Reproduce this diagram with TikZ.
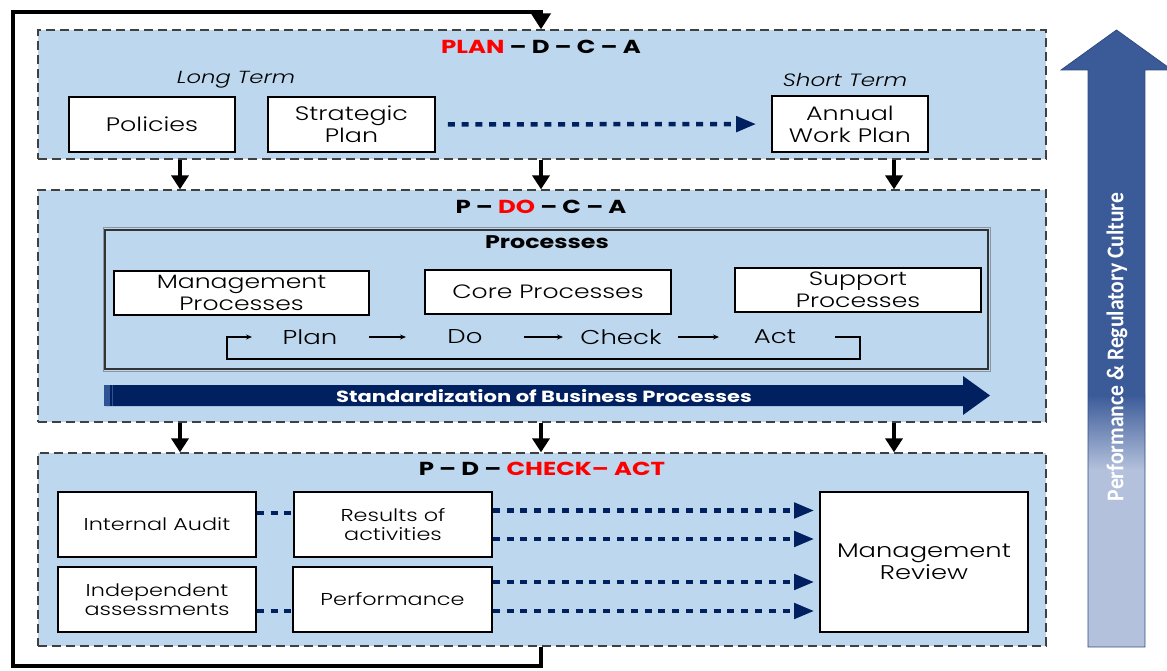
\documentclass[tikz,border=0pt]{standalone}
\usepackage{fontspec}
\setmainfont{Poppins}[FakeStretch=1.3,UprightFont={* Light},ItalicFont={* Light Italic},BoldFont={* Bold}]
\newfontfamily\calfont{Carlito}[FakeStretch=0.9]
\usetikzlibrary{arrows.meta,calc}
\definecolor{bfill}{HTML}{BDD7EE}
\definecolor{dashc}{HTML}{404040}
\definecolor{navy}{HTML}{002060}
\definecolor{perfdark}{HTML}{3A5A98}
\definecolor{perflight}{HTML}{B4C1DC}
\definecolor{perfline}{HTML}{2F4A7E}
\definecolor{stdlight}{HTML}{2E5496}
\definecolor{procgray}{HTML}{8A94A3}
\begin{document}
\begin{tikzpicture}[x=1pt,y=-1pt,
  phase/.style={draw=dashc,fill=bfill,dash pattern=on 9pt off 5pt,line width=1.3pt,inner sep=0pt},
  wbox/.style={draw=black,fill=white,line width=1.6pt,align=center,inner sep=0pt,font=\fontsize{19.5}{22}\selectfont},
  sbox/.style={wbox,font=\fontsize{17.2}{19}\selectfont},
  mrbox/.style={wbox,font=\fontsize{19.8}{22}\selectfont},
  pbox/.style={wbox,line width=1.4pt,font=\fontsize{19.3}{22}\selectfont},
  ttl/.style={inner sep=0pt,font=\bfseries\fontsize{18.8}{20}\selectfont},
  lterm/.style={inner sep=0pt,font=\itshape\fontsize{17.8}{20}\selectfont},
  pd/.style={inner sep=0pt,font=\fontsize{20}{22}\selectfont},
  darr/.style={line width=3.5pt,-{Triangle[length=14pt,width=17pt]}},
  dotarr/.style={draw=navy,line width=4.5pt,dash pattern=on 7pt off 6.8pt,-{Triangle[length=20pt,width=15pt]}},
  dotline/.style={draw=navy,line width=4.5pt,dash pattern=on 7pt off 6.8pt},
  pa/.style={line width=1.2pt,-{Stealth[length=6pt,width=5pt]}},
  fb/.style={line width=4pt,-{Triangle[length=16pt,width=19pt]}}
]
\fill[white] (0,0) rectangle (1167,671);
\useasboundingbox (0,0) rectangle (1167,671);

% phase boxes
\node[phase,minimum width=1008pt,minimum height=129pt] (plan) at (542,94.5) {};
\node[phase,minimum width=1008pt,minimum height=232pt] (do) at (542,306) {};
\node[phase,minimum width=1008pt,minimum height=193pt] (check) at (542,549.5) {};

% titles
\node[ttl] (plant) at (541,47) {\textcolor{red}{PLAN} – D – C – A};
\node[ttl] (dot) at (541,207) {P – \textcolor{red}{DO} – C – A};
\node[ttl] (checkt) at (542,469) {P – D – \textcolor{red}{CHECK– ACT}};

% PLAN
\node[lterm,font=\itshape\fontsize{17.5}{20}\selectfont] (lt) at (236,80) {Long Term};
\node[lterm] (st) at (845,80) {Short Term};
\node[wbox,minimum width=166pt,minimum height=55pt] (pol) at (152,124.5) {Policies};
\node[wbox,minimum width=167pt,minimum height=55pt] (strat) at (351.5,124.5) {Strategic\\Plan};
\node[wbox,minimum width=156pt,minimum height=56pt] (awp) at (850,124) {Annual\\Work Plan};
\draw[dotarr,shorten <=12pt,shorten >=15pt] (strat) -- (awp);

% DO
\node[draw=procgray,line width=1pt,minimum width=887pt,minimum height=143pt,inner sep=0pt] (proc) at (546.5,299.5) {};
\draw[black!80,line width=1.1pt] ([shift={(2.5pt,-2.5pt)}]proc.north west) rectangle ([shift={(-2.5pt,2.5pt)}]proc.south east);
\node[ttl,font=\bfseries\fontsize{18.3}{20}\selectfont] (proct) at (547,242) {Processes};
\node[pbox,minimum width=255pt,minimum height=44pt] (mgmt) at (241.5,293) {Management\\Processes};
\node[pbox,minimum width=246pt,minimum height=44pt] (core) at (548,292) {Core Processes};
\node[pbox,minimum width=246pt,minimum height=44pt] (supp) at (858,290) {Support\\Processes};
\node[pd] (pP) at (310,337) {Plan};
\node[pd] (pD) at (465,337) {Do};
\node[pd] (pC) at (621,337) {Check};
\node[pd] (pA) at (775,337) {Act};
\draw[pa,shorten <=59pt,shorten >=59pt] (pP.center) -- (pD.center);
\draw[pa,shorten <=59pt,shorten >=58pt] (pD.center) -- (pC.center);
\draw[pa,shorten <=57pt,shorten >=56pt] (pC.center) -- (pA.center);
\coordinate (lr) at (860,359);
\coordinate (ll) at (227,359);
\draw[pa] ([xshift=60pt]pA.center) -| (lr) -- (ll) |- ([xshift=-58pt]pP.center);

% standardization arrow
\fill[navy] (105,385) -- (963,385) -- (963,376) -- (990,395.5) -- (963,415) -- (963,406) -- (105,406) -- cycle;
\fill[stdlight] (104,385) rectangle (110,406);
\draw[stdlight,line width=0.8pt] (112.5,385) -- (112.5,406);
\node[ttl,text=white,font=\bfseries\fontsize{16.2}{18}\selectfont] (stdt) at (544,396) {Standardization of Business Processes};

% down arrows
\coordinate (xa) at (180,0);
\coordinate (xb) at (541,0);
\coordinate (xc) at (894,0);
\draw[darr] (plan.south -| xa) -- (do.north -| xa);
\draw[darr] (plan.south -| xb) -- (do.north -| xb);
\draw[darr] (plan.south -| xc) -- (do.north -| xc);
\draw[darr] (do.south -| xa) -- (check.north -| xa);
\draw[darr] (do.south -| xb) -- (check.north -| xb);
\draw[darr] (do.south -| xc) -- (check.north -| xc);

% CHECK
\node[sbox,minimum width=198pt,minimum height=65pt] (ia) at (157,524.5) {Internal Audit};
\node[sbox,minimum width=198pt,minimum height=65pt] (res) at (393,524.5) {Results of\\activities};
\node[sbox,minimum width=198pt,minimum height=65pt] (ind) at (157,599.5) {Independent\\assessments};
\node[sbox,minimum width=199pt,minimum height=65pt] (perf) at (392.5,599.5) {Performance};
\node[mrbox,minimum width=208pt,minimum height=140pt] (mr) at (924,562) {Management\\Review};
\draw[dotline] ([yshift=11.5pt]ia.east) -- ([yshift=11.5pt]res.west);
\draw[dotline] ([yshift=-11.5pt]ind.east) -- ([yshift=-11.5pt]perf.west);
\draw[dotarr,shorten >=5pt] ([yshift=14pt]res.east) -- ([yshift=14pt]res.east -| mr.west);
\draw[dotarr,shorten >=5pt] ([yshift=-14.5pt]res.east) -- ([yshift=-14.5pt]res.east -| mr.west);
\draw[dotarr,shorten >=5pt] ([yshift=17.5pt]perf.east) -- ([yshift=17.5pt]perf.east -| mr.west);
\draw[dotarr,shorten >=5pt] ([yshift=-11.5pt]perf.east) -- ([yshift=-11.5pt]perf.east -| mr.west);

% feedback loop
\coordinate (lbl) at (13,666);
\coordinate (ltl) at (13,12);
\draw[fb] (check.south -| xb) |- (lbl) -- (ltl) -| (plan.north -| xb);

% performance arrow
\fill[perfdark] (1061,70) -- (1116.5,30) -- (1172,70) -- cycle;
\fill[perfdark] (1088,69) rectangle (1145,395);
\shade[top color=perfdark,bottom color=perflight] (1088,394.5) rectangle (1145,470);
\fill[perflight] (1088,469.5) rectangle (1145,647);
\draw[perfline,line width=0.8pt] (1088,647) -- (1088,70) -- (1061,70) -- (1116.5,30) -- (1172,70) -- (1145,70) -- (1145,647) -- cycle;
\node[rotate=90,text=white,inner sep=0pt,font=\calfont\bfseries\fontsize{24}{26}\selectfont] (perft) at (1117,347) {Performance \& Regulatory Culture};
\end{tikzpicture}
\end{document}
